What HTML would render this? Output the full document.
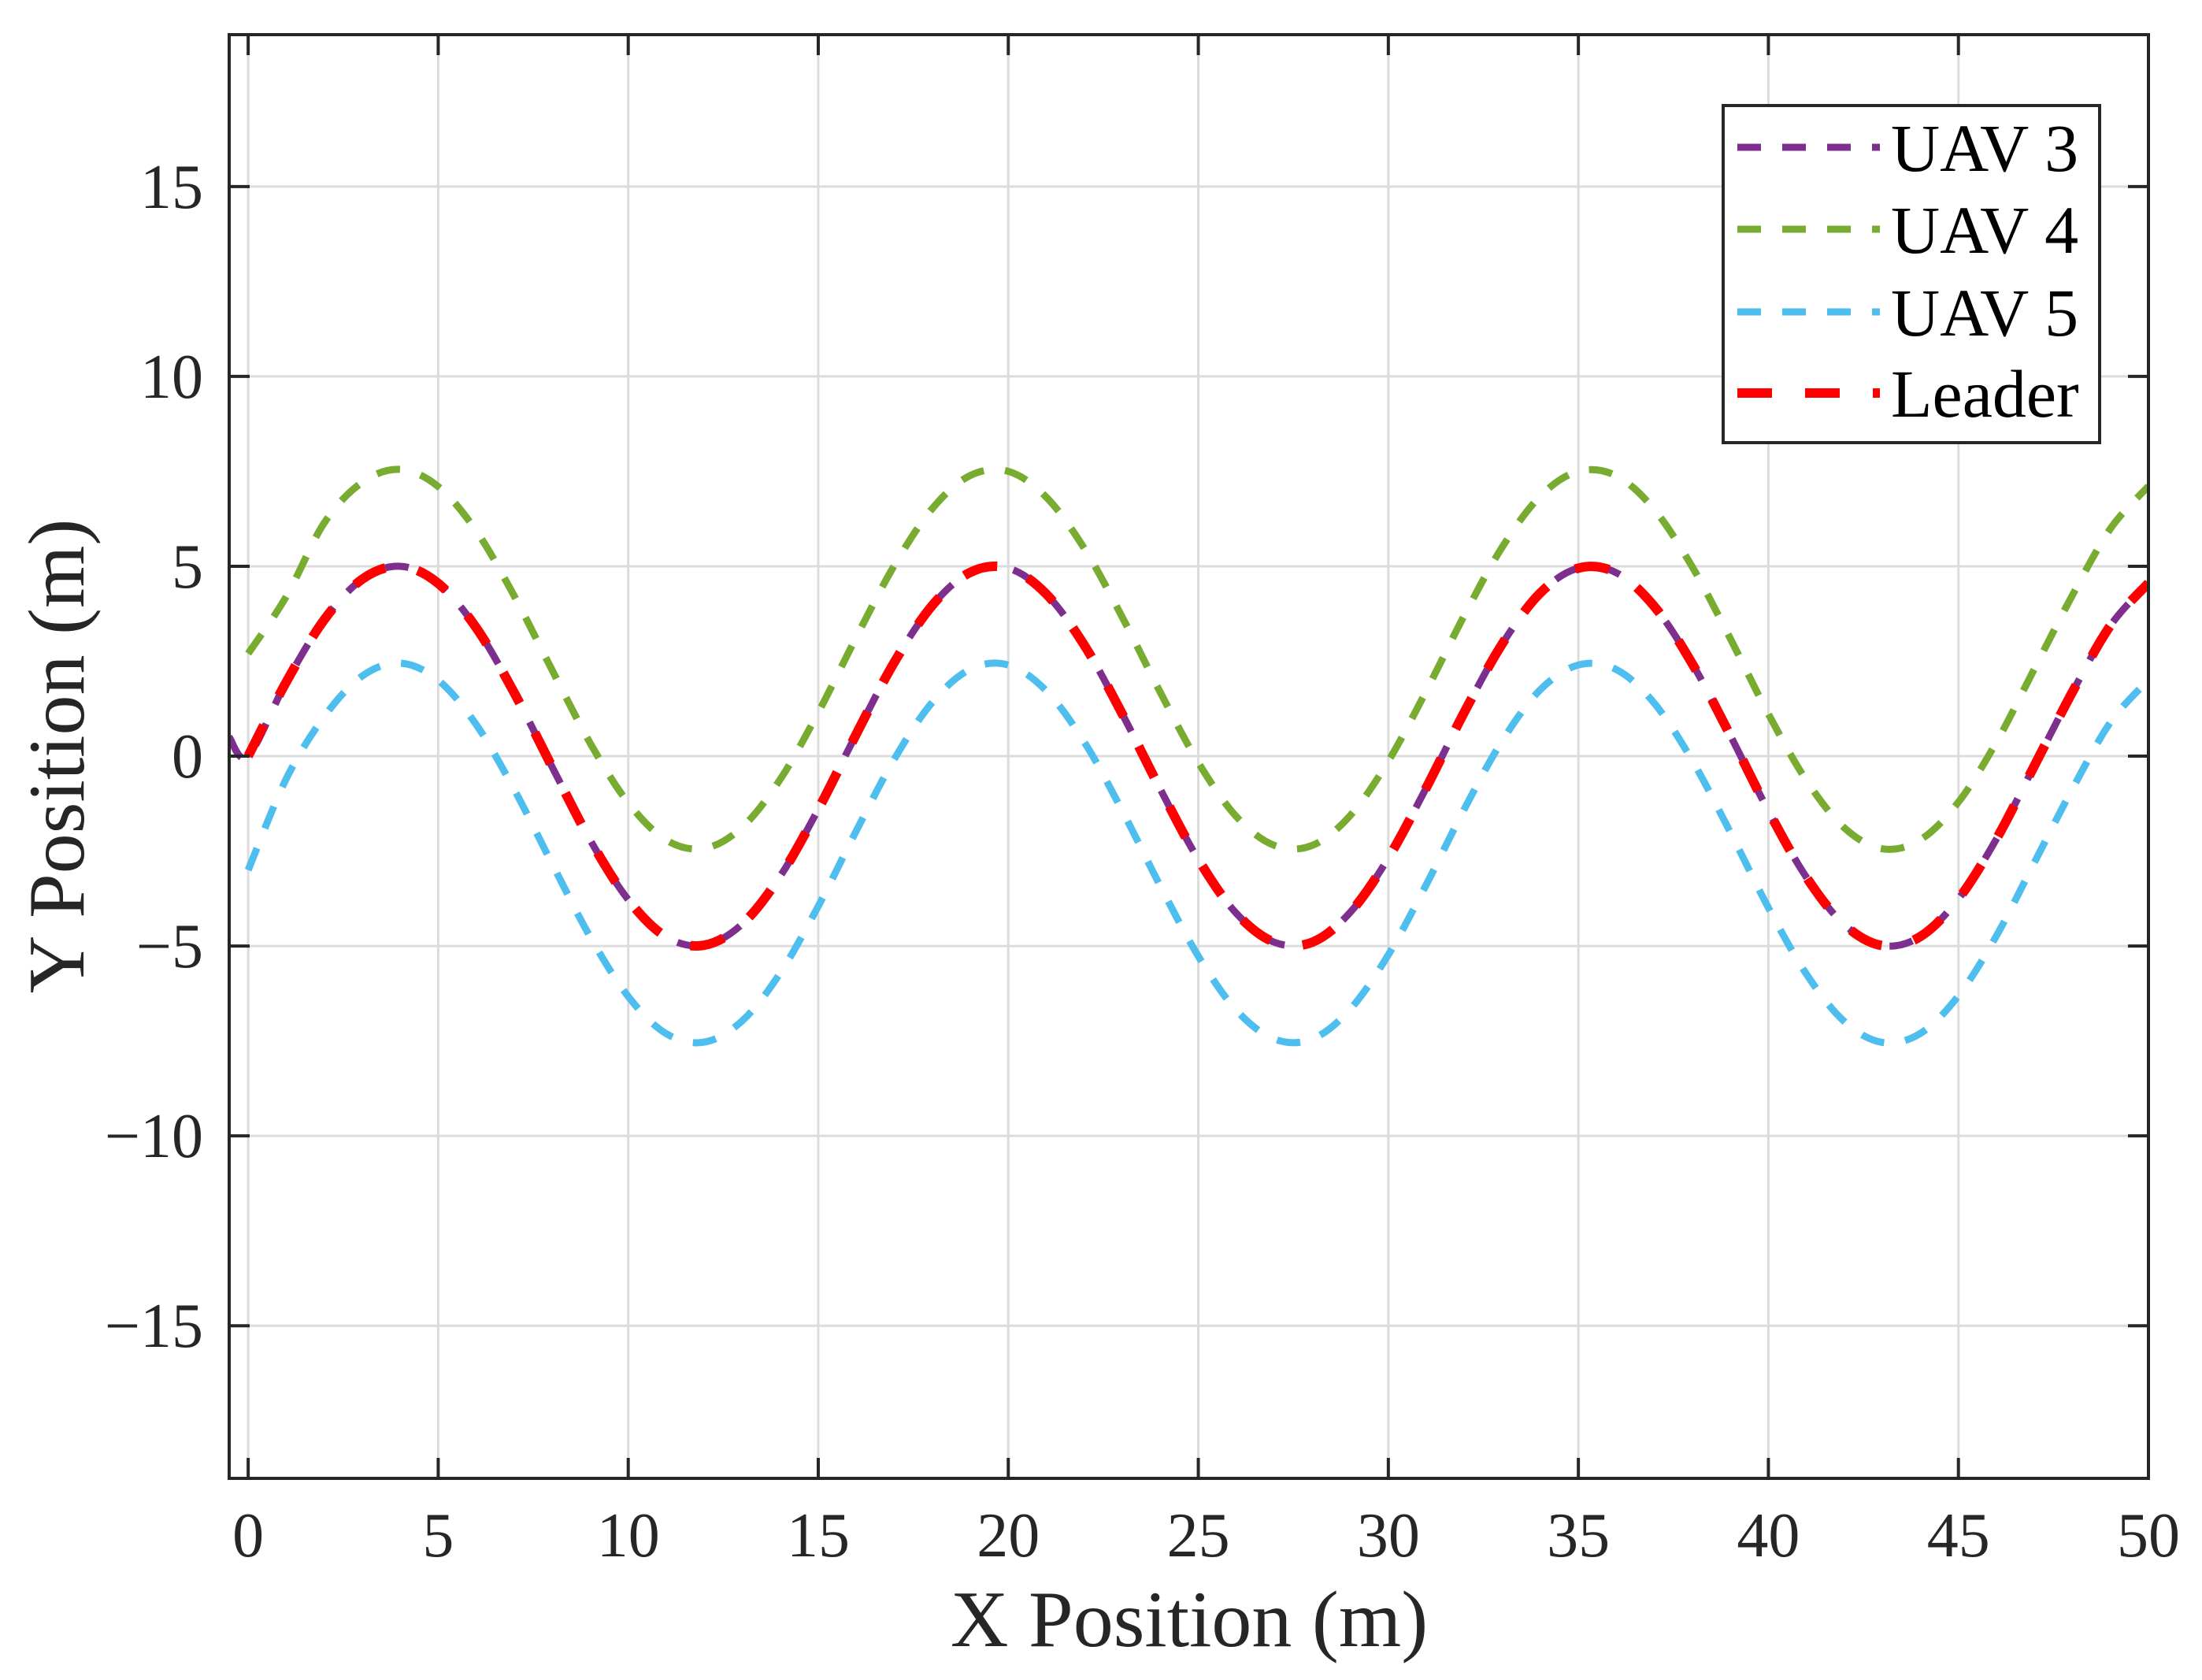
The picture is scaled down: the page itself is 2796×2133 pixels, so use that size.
<!DOCTYPE html>
<html><head><meta charset="utf-8"><style>
html,body{margin:0;padding:0;background:#fff}
svg{display:block}
text{font-family:"Liberation Serif",serif;fill:#262626}
</style></head><body>
<svg id="chart" width="2796" height="2133" viewBox="0 0 2796 2133" xmlns="http://www.w3.org/2000/svg">
<rect x="0" y="0" width="2796" height="2133" fill="#fff"/>
<g id="grid"></g>
<g id="series"></g>
<g id="axes"></g>
<g id="legend"></g>
</svg>
<script>
const xTicks = [0,5,10,15,20,25,30,35,40,45,50];
const yTicks = [-15,-10,-5,0,5,10,15];
const xTickLabels = ["0","5","10","15","20","25","30","35","40","45","50"];
const yTickLabels = ["\u221215","\u221210","\u22125","0","5","10","15"];
const xValues = [0,1,2,3,4,5,6,7,8,9,10,11,12,13,14,15,16,17,18,19,20,21,22,23,24,25,26,27,28,29,30,31,32,33,34,35,36,37,38,39,40,41,42,43,44,45,46,47,48,49,50];
const leaderY = [0,1.95,3.59,4.66,5.00,4.55,3.38,1.67,-0.29,-2.21,-3.78,-4.76,-4.98,-4.42,-3.16,-1.40,0.58,2.47,3.97,4.84,4.95,4.27,2.92,1.11,-0.87,-2.72,-4.14,-4.90,-4.90,-4.11,-2.68,-0.83,1.16,2.96,4.30,4.95,4.83,3.94,2.43,0.54,-1.44,-3.19,-4.44,-4.99,-4.75,-3.76,-2.18,-0.25,1.69,3.44,4.56];
const uav3X = [-0.5,0,1,2,3,4,5,6,7,8,9,10,11,12,13,14,15,16,17,18,19,20,21,22,23,24,25,26,27,28,29,30,31,32,33,34,35,36,37,38,39,40,41,42,43,44,45,46,47,48,49,50];
const uav3Y = [0.5,0,1.95,3.59,4.66,5.00,4.55,3.38,1.67,-0.29,-2.21,-3.78,-4.76,-4.98,-4.42,-3.16,-1.40,0.58,2.47,3.97,4.84,4.95,4.27,2.92,1.11,-0.87,-2.72,-4.14,-4.90,-4.90,-4.11,-2.68,-0.83,1.16,2.96,4.30,4.95,4.83,3.94,2.43,0.54,-1.44,-3.19,-4.44,-4.99,-4.75,-3.76,-2.18,-0.25,1.69,3.44,4.56];
const uav4Y = [2.7,4.2,6.14,7.21,7.55,7.10,5.93,4.22,2.26,0.34,-1.23,-2.21,-2.43,-1.87,-0.61,1.15,3.13,5.02,6.52,7.39,7.50,6.82,5.47,3.66,1.68,-0.17,-1.59,-2.35,-2.35,-1.56,-0.13,1.72,3.71,5.51,6.85,7.50,7.38,6.49,4.98,3.09,1.11,-0.64,-1.89,-2.44,-2.20,-1.21,0.37,2.30,4.24,5.99,7.11];
const uav5Y = [-3.0,-0.6,1.04,2.11,2.45,2.00,0.83,-0.88,-2.84,-4.76,-6.33,-7.31,-7.53,-6.97,-5.71,-3.95,-1.97,-0.08,1.42,2.29,2.40,1.72,0.37,-1.44,-3.42,-5.27,-6.69,-7.45,-7.45,-6.66,-5.23,-3.38,-1.39,0.41,1.75,2.40,2.28,1.39,-0.12,-2.01,-3.99,-5.74,-6.99,-7.54,-7.30,-6.31,-4.73,-2.80,-0.86,0.89,2.01];

const NS="http://www.w3.org/2000/svg";
const L=291,R=2728,T=44,B=1877;
const xMin=-0.5,xMax=50,yMin=-19.02,yMax=19;
function sx(v){return L+(v-xMin)/(xMax-xMin)*(R-L);}
function sy(v){return B-(v-yMin)/(yMax-yMin)*(B-T);}
function mk(tag,attrs,parent){const e=document.createElementNS(NS,tag);for(const k in attrs)e.setAttribute(k,attrs[k]);parent.appendChild(e);return e;}
const grid=document.getElementById('grid'),axes=document.getElementById('axes'),series=document.getElementById('series'),legend=document.getElementById('legend');

xTicks.forEach((t,i)=>{
  const g=mk('line',{x1:sx(t),x2:sx(t),y1:T,y2:B,stroke:'#dcdcdc','stroke-width':3},grid);
  
  
  const tk=mk('line',{x1:sx(t),x2:sx(t),y1:B,y2:B-26,stroke:'#262626','stroke-width':4},axes);
  
  
  const tk2=mk('line',{x1:sx(t),x2:sx(t),y1:T,y2:T+26,stroke:'#262626','stroke-width':4},axes);
  
  
  const tx=mk('text',{x:sx(t),y:1976,'font-size':80,'text-anchor':'middle'},axes);
  tx.textContent=xTickLabels[i];
  
  
});
yTicks.forEach((t,i)=>{
  const g=mk('line',{x1:L,x2:R,y1:sy(t),y2:sy(t),stroke:'#dcdcdc','stroke-width':3},grid);
  
  
  const tk=mk('line',{x1:L,x2:L+26,y1:sy(t),y2:sy(t),stroke:'#262626','stroke-width':4},axes);
  
  
  const tk2=mk('line',{x1:R,x2:R-26,y1:sy(t),y2:sy(t),stroke:'#262626','stroke-width':4},axes);
  
  
  const tx=mk('text',{x:258,y:sy(t)+27,'font-size':80,'text-anchor':'end'},axes);
  tx.textContent=yTickLabels[i];
  
  
});
const box=mk('rect',{x:L,y:T,width:R-L,height:B-T,fill:'none',stroke:'#262626','stroke-width':4},axes);


const xl=mk('text',{x:1510,y:2090,'font-size':102,'text-anchor':'middle'},axes);
xl.textContent='X Position (m)';


const yl=mk('text',{x:0,y:0,'font-size':102,'text-anchor':'middle',transform:'translate(106,960) rotate(-90)'},axes);
yl.textContent='Y Position (m)';



function pathFor(xs,ys){
  const p=xs.map((x,i)=>[sx(x),sy(ys[i])]);
  let d='M'+p[0][0].toFixed(1)+','+p[0][1].toFixed(1);
  for(let i=0;i<p.length-1;i++){
    const p0=p[i-1]||p[i],p1=p[i],p2=p[i+1],p3=p[i+2]||p2;
    const c1=[p1[0]+(p2[0]-p0[0])/6,p1[1]+(p2[1]-p0[1])/6];
    const c2=[p2[0]-(p3[0]-p1[0])/6,p2[1]-(p3[1]-p1[1])/6];
    d+='C'+c1[0].toFixed(1)+','+c1[1].toFixed(1)+' '+c2[0].toFixed(1)+','+c2[1].toFixed(1)+' '+p2[0].toFixed(1)+','+p2[1].toFixed(1);
  }
  return d;
}
const defs=[
  {name:'uav3-line',xs:uav3X,ys:uav3Y,color:'#7E2F8E',w:9,dash:'30 27'},
  {name:'uav4-line',xs:xValues,ys:uav4Y,color:'#77AC30',w:9,dash:'30 27'},
  {name:'uav5-line',xs:xValues,ys:uav5Y,color:'#4DBEEE',w:9,dash:'30 27'},
  {name:'leader-line',xs:xValues,ys:leaderY,color:'#FF0000',w:12,dash:'44 42'}
];
const clip=mk('clipPath',{id:'plotclip'},series);
mk('rect',{x:L,y:T,width:R-L,height:B-T},clip);
defs.forEach(s=>{
  const p=mk('path',{d:pathFor(s.xs,s.ys),fill:'none',stroke:s.color,'stroke-width':s.w,'stroke-dasharray':s.dash,'clip-path':'url(#plotclip)'},series);
  
  
});
const lb=mk('rect',{x:2188,y:134,width:478,height:428,fill:'#fff',stroke:'#262626','stroke-width':4},legend);


const legLabels=['UAV 3','UAV 4','UAV 5','Leader'];
const legY=[187,291,396,499];
defs.forEach((s,i)=>{
  const ln=mk('line',{x1:2206,x2:2387,y1:legY[i],y2:legY[i],stroke:s.color,'stroke-width':s.w,'stroke-dasharray':s.dash},legend);
  
  
  const t=mk('text',{x:2401,y:legY[i]+30,'font-size':86,fill:'#000',style:'fill:#000'},legend);
  t.textContent=legLabels[i];
  
  
});
</script>
</body></html>
